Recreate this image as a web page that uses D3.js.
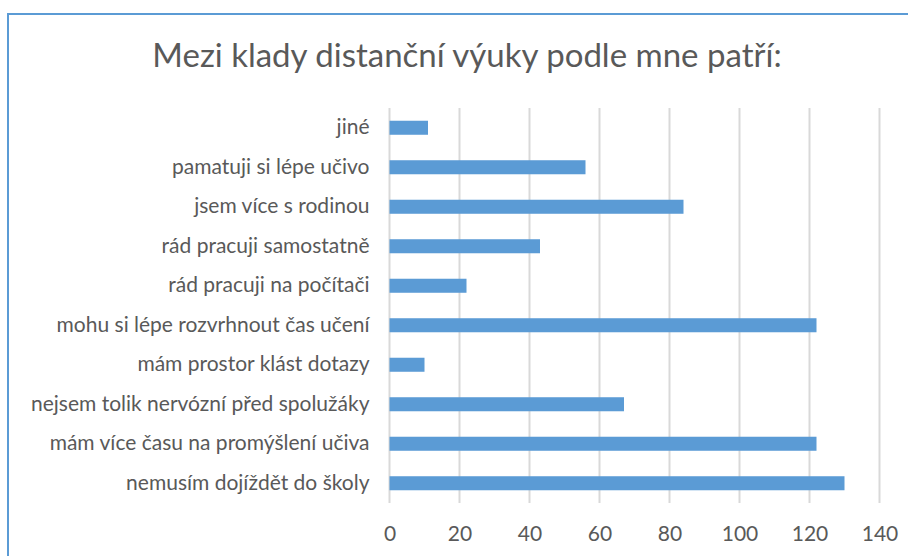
<!DOCTYPE html>
<html>
<head>
  <meta charset="utf-8">
  <script src="https://d3js.org/d3.v7.min.js"></script>
  <style>
    body { margin: 0; background: #fff; }
    text { font-family: Lato, "Open Sans", sans-serif; fill: #595959; }
    .title { font-size: 33px; }
    .cat text { font-size: 21px; }
    .val text { font-size: 21px; }
  </style>
</head>
<body>
<div id="chart"></div>
<script>
// answers, listed top to bottom as in the chart
var categories = [
  "jiné",
  "pamatuji si lépe učivo",
  "jsem více s rodinou",
  "rád pracuji samostatně",
  "rád pracuji na počítači",
  "mohu si lépe rozvrhnout čas učení",
  "mám prostor klást dotazy",
  "nejsem tolik nervózní před spolužáky",
  "mám více času na promýšlení učiva",
  "nemusím dojíždět do školy"
];
var counts = [11, 56, 84, 43, 22, 122, 10, 67, 122, 130];
var ticks = [0, 20, 40, 60, 80, 100, 120, 140];
var title = "Mezi klady distanční výuky podle mne patří:";

var W = 908, H = 556;
var svg = d3.select("#chart").append("svg")
  .attr("width", W).attr("height", H);

// chart frame (runs off the right and bottom edges)
svg.append("rect")
  .attr("x", 8).attr("y", 14)
  .attr("width", W + 20).attr("height", H + 20)
  .attr("fill", "#fff")
  .attr("stroke", "#5b9bd5")
  .attr("stroke-width", 2);

svg.append("text")
  .attr("class", "title")
  .attr("x", 467).attr("y", 67)
  .attr("text-anchor", "middle")
  .text(title);

var x = d3.scaleLinear().domain([0, 140]).range([389.5, 879.5]);
var y = d3.scaleBand().domain(categories).range([108, 503])
  .paddingInner(0.645).paddingOuter(0.3225);

// gridlines
svg.append("g").selectAll("line")
  .data(ticks).enter().append("line")
  .attr("x1", function (d) { return x(d); })
  .attr("x2", function (d) { return x(d); })
  .attr("y1", 108).attr("y2", 503)
  .attr("stroke", "#d9d9d9")
  .attr("stroke-width", 2);

// bars
svg.append("g").selectAll("rect")
  .data(counts).enter().append("rect")
  .attr("x", x(0))
  .attr("y", function (d, i) { return y(categories[i]); })
  .attr("width", function (d) { return x(d) - x(0); })
  .attr("height", y.bandwidth())
  .attr("fill", "#5b9bd5");

// category labels
var yAxis = svg.append("g").attr("class", "cat")
  .attr("transform", "translate(" + x(0) + ",0)")
  .call(d3.axisLeft(y).tickSize(0).tickPadding(20));
yAxis.select(".domain").remove();

// value labels
var xAxis = svg.append("g").attr("class", "val")
  .attr("transform", "translate(0,503)")
  .call(d3.axisBottom(x).tickValues(ticks).tickSize(0).tickPadding(23));
xAxis.select(".domain").remove();
</script>
</body>
</html>
